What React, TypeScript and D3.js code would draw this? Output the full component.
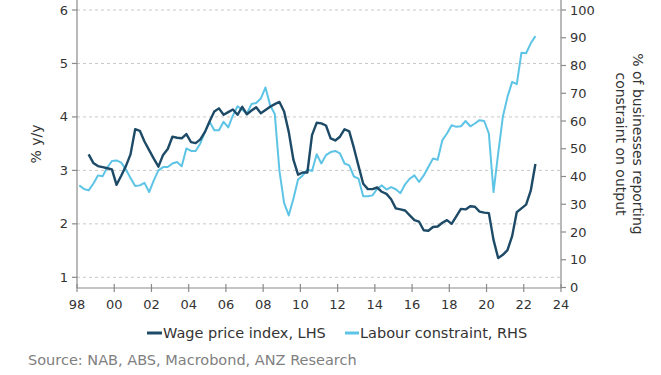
import React from 'react';
import * as d3 from 'd3';

// quarterly series, plotted at mid-quarter
const wpiStart = 1998.625; // 1998 Q3
const wpi = [
  3.3, 3.14,
  3.08, 3.06, 3.04, 3.02,
  2.73, 2.9, 3.08, 3.3,
  3.77, 3.74, 3.54, 3.38,
  3.22, 3.07, 3.29, 3.4,
  3.63, 3.61, 3.6, 3.68,
  3.53, 3.51, 3.58, 3.72,
  3.92, 4.1, 4.16, 4.04,
  4.09, 4.14, 4.04, 4.19,
  4.05, 4.12, 4.18, 4.07,
  4.13, 4.19, 4.24, 4.28,
  4.1, 3.72, 3.2, 2.92,
  2.96, 2.96, 3.66, 3.89,
  3.88, 3.84, 3.6, 3.56,
  3.63, 3.77, 3.73, 3.42,
  3.08, 2.75, 2.65, 2.65,
  2.68, 2.6, 2.56, 2.46,
  2.29, 2.27, 2.25, 2.16,
  2.07, 2.04, 1.88, 1.87,
  1.94, 1.95, 2.02, 2.07,
  2.0, 2.14, 2.28, 2.27,
  2.33, 2.32, 2.23, 2.21,
  2.2, 1.7, 1.36, 1.42,
  1.51, 1.77, 2.22, 2.29,
  2.36, 2.62, 3.12,
];

const labourStart = 1998.125; // 1998 Q1
const labour = [
  36.8, 35.5, 35.0, 37.4,
  40.4, 40.1, 43.2, 45.6,
  45.8, 45.0, 42.5, 39.5,
  36.6, 36.8, 37.7, 34.4,
  38.6, 42.2, 43.4, 43.4,
  44.7, 45.2, 43.7, 50.1,
  49.2, 49.2, 51.9, 56.1,
  59.7, 56.7, 56.7, 59.7,
  57.7, 62.0, 65.3, 64.1,
  62.7, 66.1, 66.5, 68.1,
  72.1, 65.7, 62.5, 42.0,
  30.5, 26.0, 32.0, 38.9,
  40.4, 42.5, 42.0, 48.0,
  44.7, 47.7, 48.8, 49.2,
  48.3, 44.7, 44.0, 40.0,
  39.2, 32.9, 32.9, 33.2,
  35.6, 36.8, 35.3, 36.2,
  35.4, 34.0, 37.2, 39.2,
  40.4, 38.0, 40.4, 43.4,
  46.5, 46.0, 53.1, 55.5,
  58.5, 57.9, 58.1, 60.0,
  58.1, 59.1, 60.3, 60.0,
  55.5, 34.4, 48.3, 61.5,
  68.7, 74.1, 73.3, 84.6,
  84.4, 88.0, 90.6,
];

const leftTicks = [1, 2, 3, 4, 5, 6];
const rightTicks = [0, 10, 20, 30, 40, 50, 60, 70, 80, 90, 100];
const yearTicks = [1998, 2000, 2002, 2004, 2006, 2008, 2010, 2012, 2014, 2016, 2018, 2020, 2022, 2024];

const DARK = '#1d4a66';
const LIGHT = '#5ec4e6';
const FONT = 'Verdana, "DejaVu Sans", sans-serif';

const App: React.FC = () => {
  const x = d3.scaleLinear().domain([1998, 2024]).range([77, 561]);
  const yL = d3.scaleLinear().domain([0.8, 6]).range([288, 10]);
  const yR = d3.scaleLinear().domain([0, 100]).range([287.5, 10]);

  const wpiLine = d3
    .line<number>()
    .x((_, i) => x(wpiStart + i * 0.25))
    .y((d) => yL(d));

  const labourLine = d3
    .line<number>()
    .x((_, i) => x(labourStart + i * 0.25))
    .y((d) => yR(d));

  const fmtYear = (yr: number) => String(yr % 100).padStart(2, '0');

  return (
    <svg
      width={661}
      height={375}
      style={{ position: 'absolute', left: 0, top: 0, background: '#fff' }}
      fontFamily={FONT}
    >
      {/* grid */}
      {leftTicks.map((t) => (
        <line
          key={'g' + t}
          x1={77}
          x2={561}
          y1={yL(t)}
          y2={yL(t)}
          stroke="#c8c8c8"
          strokeDasharray="3,3"
          strokeWidth={1}
        />
      ))}

      {/* axes */}
      <g stroke="#8a8a8a" strokeWidth={1.2}>
        <line x1={77} x2={77} y1={0} y2={288} />
        <line x1={561} x2={561} y1={0} y2={288} />
        <line x1={77} x2={561} y1={288} y2={288} />
        {leftTicks.map((t) => (
          <line key={'lt' + t} x1={72} x2={77} y1={yL(t)} y2={yL(t)} />
        ))}
        {rightTicks.map((t) => (
          <line key={'rt' + t} x1={561} x2={566} y1={yR(t)} y2={yR(t)} />
        ))}
        {yearTicks.map((t) => (
          <line key={'xt' + t} x1={x(t)} x2={x(t)} y1={284} y2={292} />
        ))}
      </g>

      <g fontSize={13} fill="#333">
        {leftTicks.map((t) => (
          <text key={'ll' + t} x={68} y={yL(t)} textAnchor="end" dominantBaseline="central">
            {t}
          </text>
        ))}
        {rightTicks.map((t) => (
          <text key={'rl' + t} x={570} y={yR(t)} textAnchor="start" dominantBaseline="central">
            {t}
          </text>
        ))}
        {yearTicks.map((t) => (
          <text key={'xl' + t} x={x(t)} y={304} textAnchor="middle" dominantBaseline="central">
            {fmtYear(t)}
          </text>
        ))}
      </g>

      {/* axis titles */}
      <text
        transform="translate(36,144) rotate(-90)"
        fontSize={14}
        fill="#333"
        textAnchor="middle"
        dominantBaseline="central"
      >
        % y/y
      </text>
      <g transform="translate(638,144) rotate(90)" fontSize={14} fill="#333" textAnchor="middle">
        <text x={0} y={0} dominantBaseline="central">
          % of businesses reporting
        </text>
        <text x={0} y={17} dominantBaseline="central">
          constraint on output
        </text>
      </g>

      {/* series */}
      <path d={labourLine(labour) ?? ''} fill="none" stroke={LIGHT} strokeWidth={2} strokeLinejoin="round" />
      <path d={wpiLine(wpi) ?? ''} fill="none" stroke={DARK} strokeWidth={2.4} strokeLinejoin="round" />

      {/* legend */}
      <g fontSize={14.5} fill="#333">
        <line x1={147} x2={162} y1={333} y2={333} stroke={DARK} strokeWidth={3} />
        <text x={163} y={333} dominantBaseline="central">
          Wage price index, LHS
        </text>
        <line x1={345} x2={359} y1={333} y2={333} stroke={LIGHT} strokeWidth={3} />
        <text x={360} y={333} dominantBaseline="central">
          Labour constraint, RHS
        </text>
      </g>

      <text x={28} y={360} fontSize={14.5} fill="#808080" dominantBaseline="central">
        Source: NAB, ABS, Macrobond, ANZ Research
      </text>
    </svg>
  );
};

export default App;
